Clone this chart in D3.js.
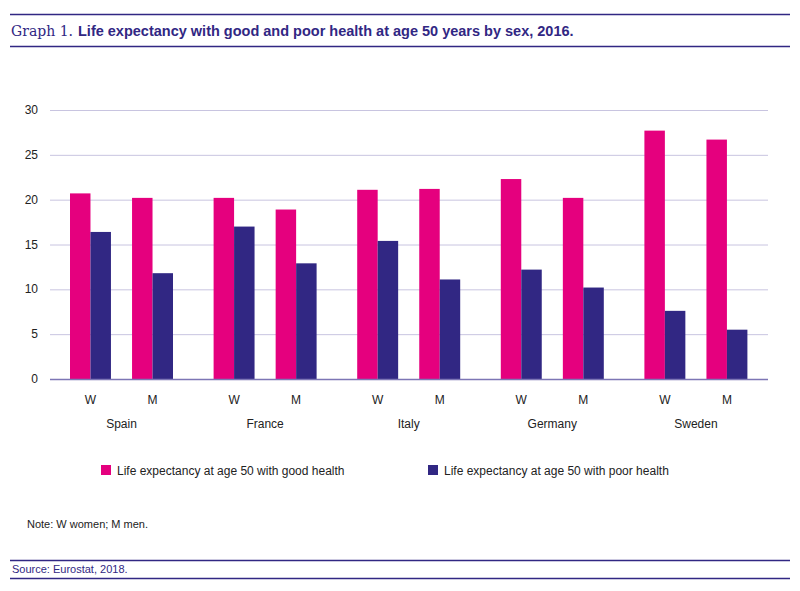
<!DOCTYPE html>
<html><head><meta charset="utf-8">
<script src="https://cdn.jsdelivr.net/npm/d3@7"></script>
<style>body{margin:0;background:#fff}text{font-family:"Liberation Sans",Arial,sans-serif}</style>
</head><body><svg id="c" width="800" height="591"></svg>
<script>
const countries = ['Spain', 'France', 'Italy', 'Germany', 'Sweden']
const sexes = ['W', 'M']
// [W, M] per country
const goodHealth = [[20.7, 20.2], [20.2, 18.9], [21.1, 21.2], [22.3, 20.2], [27.7, 26.7]]
const poorHealth = [[16.4, 11.8], [17.0, 12.9], [15.4, 11.1], [12.2, 10.2], [7.6, 5.5]]
const yTicks = [0, 5, 10, 15, 20, 25, 30]
const seriesNames = ['Life expectancy at age 50 with good health', 'Life expectancy at age 50 with poor health']
const colors = ['#e5007e', '#312783']

const svg = d3.select('#c')
const navy = '#312783'
svg.append('line').attr('x1', 10).attr('x2', 790).attr('y1', 14.5).attr('y2', 14.5).attr('stroke', navy).attr('stroke-width', 1.5)
svg.append('line').attr('x1', 10).attr('x2', 790).attr('y1', 46.5).attr('y2', 46.5).attr('stroke', navy).attr('stroke-width', 1.5)
svg.append('text').attr('x', 11).attr('y', 36).attr('fill', navy).style('font-family', '"DejaVu Serif",serif').style('font-size', '14px').text('Graph 1.')
svg.append('text').attr('x', 78).attr('y', 36).attr('fill', navy).style('font-weight', 'bold').style('font-size', '14.5px').text('Life expectancy with good and poor health at age 50 years by sex, 2016.')

const plotLeft = 50, plotRight = 768, plotTop = 110, plotBottom = 379
const y = d3.scaleLinear().domain([0, 30]).range([plotBottom, plotTop])
const x0 = d3.scaleBand().domain(countries).range([plotLeft, plotRight]).paddingInner(0).paddingOuter(0)
const x1 = d3.scaleBand().domain(sexes).range([20, 123]).paddingInner(0.34)
const x2 = d3.scaleBand().domain([0, 1]).range([0, x1.bandwidth()])

svg.append('g').selectAll('line').data(yTicks.slice(1)).join('line')
  .attr('x1', plotLeft).attr('x2', plotRight).attr('y1', d => y(d) + 0.5).attr('y2', d => y(d) + 0.5)
  .attr('stroke', '#c8c4e0').attr('stroke-width', 1)
svg.append('g').selectAll('text').data(yTicks).join('text')
  .attr('x', 38).attr('y', d => y(d) + 4).attr('text-anchor', 'end').style('font-size', '12px').attr('fill', '#222').text(d => d)

countries.forEach((c, ci) => {
  const g = svg.append('g').attr('transform', `translate(${x0(c)},0)`)
  sexes.forEach((s, si) => {
    const vals = [goodHealth[ci][si], poorHealth[ci][si]]
    g.append('g').selectAll('rect').data(vals).join('rect')
      .attr('x', (d, i) => x1(s) + x2(i)).attr('width', x2.bandwidth())
      .attr('y', d => y(d)).attr('height', d => plotBottom - y(d)).attr('fill', (d, i) => colors[i])
    g.append('text').attr('x', x1(s) + x1.bandwidth() / 2).attr('y', 404).attr('text-anchor', 'middle').style('font-size', '12px').attr('fill', '#222').text(s)
  })
  g.append('text').attr('x', (x1('W') + x1('M') + x1.bandwidth()) / 2).attr('y', 428).attr('text-anchor', 'middle').style('font-size', '12px').attr('fill', '#222').text(c)
})
svg.append('line').attr('x1', plotLeft).attr('x2', plotRight).attr('y1', plotBottom + 0.5).attr('y2', plotBottom + 0.5).attr('stroke', '#7d76b5').attr('stroke-width', 1.5)

const legX = [101, 428]
seriesNames.forEach((n, i) => {
  svg.append('rect').attr('x', legX[i]).attr('y', 465).attr('width', 10).attr('height', 10).attr('fill', colors[i])
  svg.append('text').attr('x', legX[i] + 16).attr('y', 475).style('font-size', '12px').attr('fill', '#222').text(n)
})
svg.append('text').attr('x', 27).attr('y', 528).style('font-size', '11px').attr('fill', '#222').text('Note: W women; M men.')
svg.append('text').attr('x', 12).attr('y', 573).style('font-size', '11px').attr('fill', navy).text('Source: Eurostat, 2018.')
svg.append('line').attr('x1', 10).attr('x2', 790).attr('y1', 560.5).attr('y2', 560.5).attr('stroke', navy).attr('stroke-width', 1.5)
svg.append('line').attr('x1', 10).attr('x2', 790).attr('y1', 578.5).attr('y2', 578.5).attr('stroke', navy).attr('stroke-width', 1.5)
</script></body></html>
